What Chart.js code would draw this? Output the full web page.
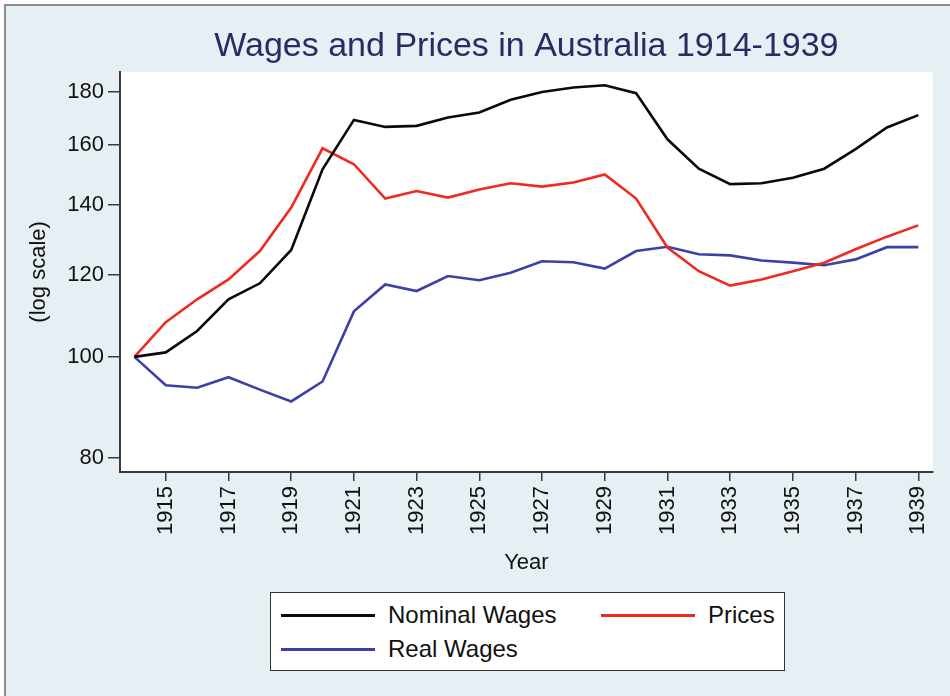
<!DOCTYPE html>
<html>
<head>
<meta charset="utf-8">
<script src="https://cdn.jsdelivr.net/npm/chart.js@4/dist/chart.umd.min.js"></script>
<style>
  html, body { margin: 0; padding: 0; background: #fff; }
  #wrap { position: relative; width: 950px; height: 696px; }
  #legend {
    position: absolute; left: 270px; top: 592px; width: 515px; height: 79px;
    border: 1.5px solid #333; background: #fff; box-sizing: border-box;
    font-family: "Liberation Sans", Arial, sans-serif; font-size: 24px; color: #111;
  }
  .item { position: absolute; display: flex; align-items: center; }
  .swatch { width: 94px; height: 3px; margin-right: 13px; }
</style>
</head>
<body>
<div id="wrap">
  <canvas id="chart" width="950" height="696"></canvas>
  <div id="legend"></div>
</div>
<script>
// data (index, 1914 = 100)
const years = [1914, 1915, 1916, 1917, 1918, 1919, 1920, 1921, 1922, 1923, 1924, 1925, 1926,
               1927, 1928, 1929, 1930, 1931, 1932, 1933, 1934, 1935, 1936, 1937, 1938, 1939];
const nominalWages = [100, 101.0, 105.9, 113.6, 117.7, 126.7, 151.5, 169.0, 166.4, 166.8, 169.9, 171.8, 176.7,
                      179.8, 181.6, 182.5, 179.3, 161.9, 151.7, 146.6, 146.9, 148.7, 151.7, 158.4, 166.2, 170.8];
const prices = [100, 108.0, 113.6, 118.7, 126.4, 139.2, 158.7, 153.2, 142.0, 144.4, 142.3, 144.9, 146.9,
                145.8, 147.1, 149.8, 142.0, 127.4, 120.9, 117.1, 118.7, 120.9, 123.2, 126.9, 130.5, 133.8];
const realWages = [100, 93.9, 93.4, 95.6, 93.0, 90.6, 94.7, 110.6, 117.4, 115.7, 119.6, 118.5, 120.5,
                   123.6, 123.3, 121.6, 126.4, 127.6, 125.5, 125.2, 123.8, 123.2, 122.5, 124.1, 127.5, 127.5];

const yTicks = [80, 100, 120, 140, 160, 180];
const xTicks = [1915, 1917, 1919, 1921, 1923, 1925, 1927, 1929, 1931, 1933, 1935, 1937, 1939];

const seriesNames = ['Nominal Wages', 'Prices', 'Real Wages'];
const seriesColors = ['#0a0a0a', '#f02a22', '#3d40a6'];

function toPoints(vals) {
  return vals.map((v, i) => ({ x: years[i], y: v }));
}

// background: light blue frame, white plot area
const bgPlugin = {
  id: 'bg',
  beforeDraw(chart) {
    const ctx = chart.ctx;
    const a = chart.chartArea;
    ctx.save();
    ctx.fillStyle = '#ffffff';
    ctx.fillRect(0, 0, chart.width, chart.height);
    ctx.fillStyle = '#e6eff3';
    ctx.fillRect(6, 6, chart.width - 6, chart.height - 6);
    ctx.strokeStyle = '#8c8c8c';
    ctx.lineWidth = 2;
    ctx.beginPath();
    ctx.moveTo(5, chart.height);
    ctx.lineTo(5, 5);
    ctx.lineTo(chart.width, 5);
    ctx.stroke();
    ctx.fillStyle = '#ffffff';
    ctx.fillRect(a.left, a.top, a.right - a.left, a.bottom - a.top);
    ctx.restore();
  }
};

const fontFamily = '"Liberation Sans", Arial, sans-serif';

const chart = new Chart(document.getElementById('chart'), {
  type: 'line',
  data: {
    datasets: [
      { label: seriesNames[0], data: toPoints(nominalWages) },
      { label: seriesNames[1], data: toPoints(prices) },
      { label: seriesNames[2], data: toPoints(realWages) }
    ].map((d, i) => ({
      ...d,
      borderColor: seriesColors[i],
      backgroundColor: seriesColors[i],
      borderWidth: 2.6,
      pointRadius: 0,
      tension: 0
    }))
  },
  options: {
    responsive: false,
    animation: false,
    layout: { padding: { left: 22, right: 15, top: 0, bottom: 116 } },
    plugins: {
      legend: { display: false },
      tooltip: { enabled: false },
      title: {
        display: true,
        fullSize: false,
        text: 'Wages and Prices in Australia 1914-1939',
        color: '#2b2b62',
        font: { family: fontFamily, size: 34, weight: 'normal' },
        padding: { top: 26, bottom: 5 },
        align: 'center'
      }
    },
    scales: {
      x: {
        type: 'linear',
        min: 1913.54,
        max: 1939.46,
        afterBuildTicks: s => { s.ticks = xTicks.map(v => ({ value: v })); },
        afterFit: s => { s.height = 108; },
        ticks: {
          color: '#111',
          font: { family: fontFamily, size: 22 },
          minRotation: 90,
          maxRotation: 90,
          padding: 5,
          callback: v => String(v)
        },
        grid: { drawOnChartArea: false, drawTicks: true, tickLength: 9, color: '#3a3a3a', lineWidth: 1.5 },
        border: { display: true, color: '#3a3a3a', width: 2 },
        title: {
          display: true, text: 'Year', color: '#111',
          font: { family: fontFamily, size: 22 },
          padding: { top: 2, bottom: 4 }
        }
      },
      y: {
        type: 'logarithmic',
        min: 77.5,
        max: 188,
        afterBuildTicks: s => { s.ticks = yTicks.map(v => ({ value: v })); },
        afterFit: s => { s.width = 120 - 22; },
        ticks: {
          color: '#111',
          font: { family: fontFamily, size: 22 },
          padding: 4,
          callback: v => String(v)
        },
        grid: { drawOnChartArea: false, drawTicks: true, tickLength: 12, color: '#3a3a3a', lineWidth: 1.5 },
        border: { display: true, color: '#3a3a3a', width: 2 },
        title: {
          display: true, text: '(log scale)', color: '#111',
          font: { family: fontFamily, size: 22 },
          padding: { top: 4, bottom: 4 }
        }
      }
    }
  },
  plugins: [bgPlugin]
});

// boxed legend, two columns like the original
const legendPos = [
  { left: 10, top: 8 },
  { left: 330, top: 8 },
  { left: 10, top: 42 }
];
const legendDiv = document.getElementById('legend');
chart.data.datasets.forEach((ds, i) => {
  const item = document.createElement('div');
  item.className = 'item';
  item.style.left = legendPos[i].left + 'px';
  item.style.top = legendPos[i].top + 'px';
  item.innerHTML = `<span class="swatch" style="background:${ds.borderColor}"></span><span>${ds.label}</span>`;
  legendDiv.appendChild(item);
});
</script>
</body>
</html>
